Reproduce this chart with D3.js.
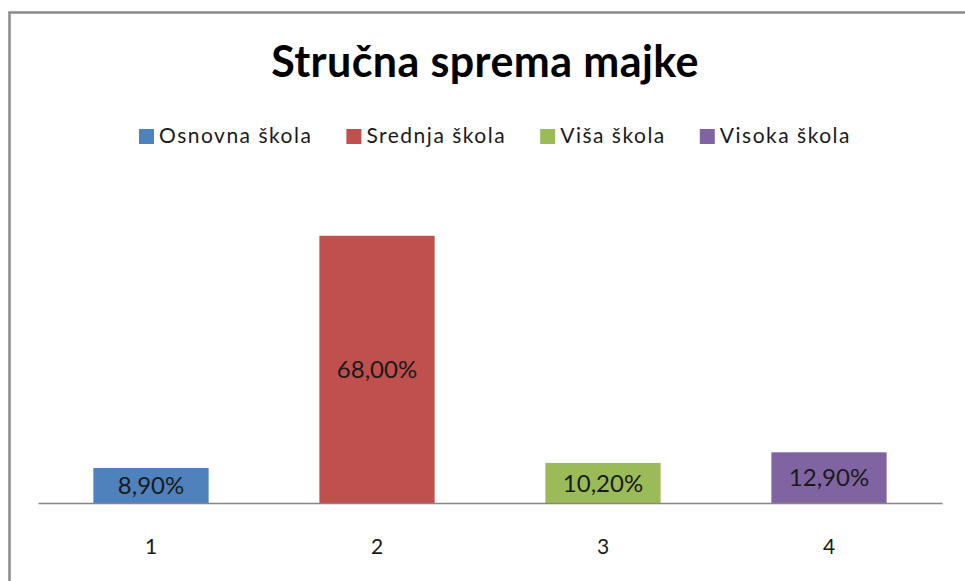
<!DOCTYPE html>
<html>
<head>
<meta charset="utf-8">
<script src="https://cdn.jsdelivr.net/npm/d3@7"></script>
<style>
  body { margin: 0; background: #fff; }
  text { font-family: Lato, "Open Sans", sans-serif; }
</style>
</head>
<body>
<svg id="chart"></svg>
<script>
var w = 965;
var h = 581;

// data
var categories = ["1", "2", "3", "4"];
var series_names = ["Osnovna škola", "Srednja škola", "Viša škola", "Visoka škola"];
var values = [8.90, 68.00, 10.20, 12.90];
var value_labels = ["8,90%", "68,00%", "10,20%", "12,90%"];
var colors = ["#4F81BD", "#C0504D", "#9BBB59", "#8064A2"];
var title = "Stručna sprema majke";

var svg = d3.select("#chart")
            .attr("width", w)
            .attr("height", h);

// outer frame (cut off at right and bottom like the original)
svg.append("rect")
   .attr("x", 9.5)
   .attr("y", 12.5)
   .attr("width", w + 20)
   .attr("height", h + 20)
   .attr("fill", "none")
   .attr("stroke", "#8a8a8a")
   .attr("stroke-width", 2.5);

svg.append("text")
   .attr("x", 485)
   .attr("y", 77)
   .attr("text-anchor", "middle")
   .style("font-size", "43px")
   .style("font-weight", "bold")
   .style("letter-spacing", "0.4px")
   .attr("fill", "#000")
   .text(title);

var x = d3.scaleBand()
          .domain(categories)
          .range([38, 942])
          .paddingInner(0.49)
          .paddingOuter(0.245);

var y = d3.scaleLinear()
          .domain([0, 80])
          .range([503, 188.6]);

// bars
var bars = svg.append("g");
bars.selectAll("rect")
    .data(values)
    .enter()
    .append("rect")
    .attr("x", function(d, i){ return x(categories[i]); })
    .attr("y", function(d){ return y(d); })
    .attr("width", x.bandwidth())
    .attr("height", function(d){ return y(0) - y(d); })
    .attr("fill", function(d, i){ return colors[i]; });

bars.selectAll("text")
    .data(values)
    .enter()
    .append("text")
    .attr("x", function(d, i){ return x(categories[i]) + x.bandwidth() / 2; })
    .attr("y", function(d){ return (y(d) + y(0)) / 2; })
    .attr("dy", "0.36em")
    .attr("text-anchor", "middle")
    .style("font-size", "24px")
    .attr("fill", "#1a1a1a")
    .text(function(d, i){ return value_labels[i]; });

// category axis
var xAxis = svg.append("g")
               .attr("transform", "translate(0," + y(0) + ")")
               .call(d3.axisBottom(x).tickSize(0).tickPadding(36));
xAxis.select(".domain").attr("stroke", "#868686").attr("stroke-width", 1.5);
xAxis.selectAll("text")
     .style("font-size", "21px")
     .style("font-family", "Lato, sans-serif")
     .attr("fill", "#1a1a1a");

// legend
var legend = svg.append("g");
var cursor = 0;
var gap = 34;
series_names.forEach(function(name, i){
    var item = legend.append("g").attr("transform", "translate(" + cursor + ",0)");
    item.append("rect")
        .attr("x", 0)
        .attr("y", -14)
        .attr("width", 15)
        .attr("height", 15)
        .attr("fill", colors[i]);
    var t = item.append("text")
        .attr("x", 20)
        .attr("y", 0)
        .style("font-size", "21px")
        .style("letter-spacing", "1.5px")
        .attr("fill", "#1a1a1a")
        .text(name);
    cursor += 20 + t.node().getComputedTextLength() + gap;
});
var legend_w = cursor - gap;
legend.attr("transform", "translate(" + (495 - legend_w / 2) + ",143)");
</script>
</body>
</html>
